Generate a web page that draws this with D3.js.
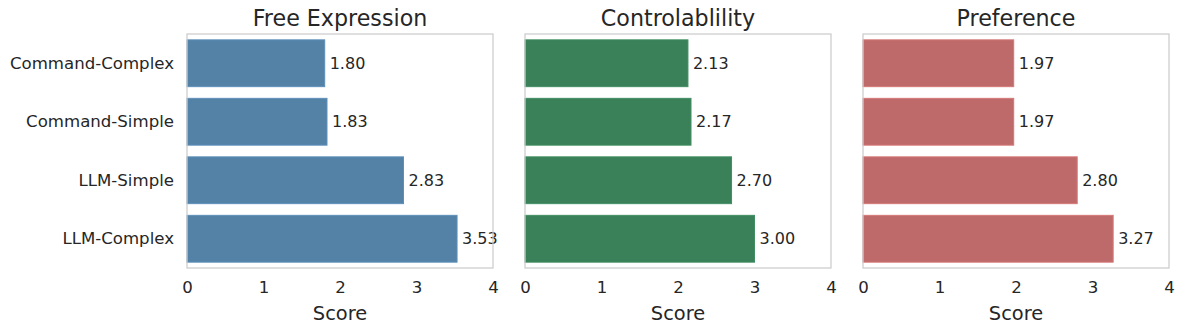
<html lang='eng'>
	<head>
		<title>Scores</title>
		<script src="https://d3js.org/d3.v7.min.js" charset="utf-8"></script>
		<style type="text/css">
			body{
				margin: 0;
				font-family: "DejaVu Sans", sans-serif;
				background: white;
			}
			text{
				fill: #262626;
			}
		</style>
	</head>
	<body>
		<div class="main"></div>
		<script>
			// data
			var categories = ["Command-Complex", "Command-Simple", "LLM-Simple", "LLM-Complex"]
			var titles = ["Free Expression", "Controlablility", "Preference"]
			var freeExpression = [1.80, 1.83, 2.83, 3.53]
			var controlability = [2.13, 2.17, 2.70, 3.00]
			var preference = [1.97, 1.97, 2.80, 3.27]
			var xTicks = [0, 1, 2, 3, 4]
			var colors = ["#5481a6", "#3a8058", "#bf6a6a"]

			var series = [freeExpression, controlability, preference]

			var width = 1184
			var height = 334
			var svg = d3.select(".main")
				.append("svg")
				.attr("width", width)
				.attr("height", height)

			var panelLeft = [187, 525, 863]
			var panelW = 306
			var plotTop = 34, plotBottom = 268

			var y = d3.scaleBand()
				.domain(categories)
				.range([plotTop, plotBottom])
				.paddingInner(0.2)
				.paddingOuter(0.1)

			series.forEach(function(vals, i){
				var x = d3.scaleLinear()
					.domain([0, 4])
					.range([panelLeft[i], panelLeft[i] + panelW])

				var g = svg.append("g")

				// bars
				g.selectAll("rect.bar")
					.data(vals)
					.enter()
					.append("rect")
					.attr("class", "bar")
					.attr("x", x(0))
					.attr("y", function(d, j){ return y(categories[j]) })
					.attr("width", function(d){ return x(d) - x(0) })
					.attr("height", y.bandwidth())
					.attr("fill", colors[i])
					.attr("stroke", d3.color(colors[i]).brighter(0.3))
					.attr("stroke-width", 1)

				// value labels
				g.selectAll("text.val")
					.data(vals)
					.enter()
					.append("text")
					.attr("class", "val")
					.attr("x", function(d){ return x(d) + 5 })
					.attr("y", function(d, j){ return y(categories[j]) + y.bandwidth() / 2 })
					.attr("dy", "0.35em")
					.style("font-size", "16px")
					.text(function(d){ return d.toFixed(2) })

				// frame
				g.append("rect")
					.attr("x", x(0))
					.attr("y", plotTop)
					.attr("width", panelW)
					.attr("height", plotBottom - plotTop)
					.attr("fill", "none")
					.attr("stroke", "#cccccc")
					.attr("stroke-width", 1.25)

				// x axis
				var xAxis = g.append("g")
					.attr("transform", "translate(0," + plotBottom + ")")
					.call(d3.axisBottom(x).tickValues(xTicks).tickFormat(d3.format("d")).tickSize(0).tickPadding(13))
				xAxis.select(".domain").remove()
				xAxis.selectAll("text")
					.style("font-size", "16.6px")
					.style("font-family", "DejaVu Sans")
					.attr("fill", "#262626")

				g.append("text")
					.attr("x", x(2))
					.attr("y", 320)
					.attr("text-anchor", "middle")
					.style("font-size", "19.4px")
					.text("Score")

				g.append("text")
					.attr("x", x(2))
					.attr("y", 26)
					.attr("text-anchor", "middle")
					.style("font-size", "22.2px")
					.text(titles[i])

				if (i == 0){
					var yAxis = g.append("g")
						.attr("transform", "translate(" + x(0) + ",0)")
						.call(d3.axisLeft(y).tickSize(0).tickPadding(13))
					yAxis.select(".domain").remove()
					yAxis.selectAll("text")
						.style("font-size", "16.6px")
						.style("font-family", "DejaVu Sans")
						.attr("fill", "#262626")
				}
			})
		</script>
	</body>
</html>
